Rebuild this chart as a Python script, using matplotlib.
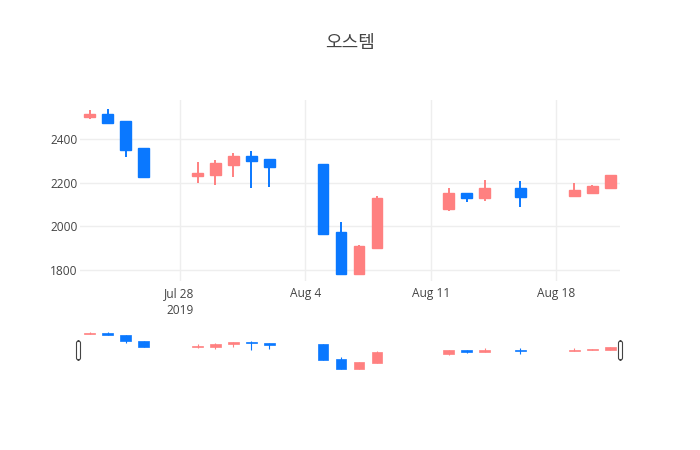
import matplotlib
matplotlib.use('Agg')
import matplotlib.pyplot as plt
import matplotlib.dates as mdates
from matplotlib.patches import FancyBboxPatch
import pandas as pd
import numpy as np

# data
dates = ['2019-07-23', '2019-07-24', '2019-07-25', '2019-07-26',
         '2019-07-29', '2019-07-30', '2019-07-31', '2019-08-01', '2019-08-02',
         '2019-08-05', '2019-08-06', '2019-08-07', '2019-08-08',
         '2019-08-12', '2019-08-13', '2019-08-14', '2019-08-16',
         '2019-08-19', '2019-08-20', '2019-08-21']
opens = [2500, 2515, 2485, 2360, 2230, 2235, 2280, 2325, 2310,
         2285, 1975, 1780, 1900, 2080, 2155, 2130, 2175, 2140, 2155, 2175]
highs = [2535, 2540, 2485, 2360, 2295, 2305, 2335, 2345, 2310,
         2285, 2020, 1915, 2140, 2175, 2155, 2215, 2210, 2200, 2190, 2235]
lows = [2495, 2475, 2320, 2225, 2200, 2190, 2225, 2175, 2180,
        1965, 1780, 1780, 1900, 2070, 2110, 2115, 2090, 2140, 2155, 2170]
closes = [2515, 2475, 2350, 2225, 2245, 2290, 2325, 2300, 2275,
          1965, 1780, 1910, 2130, 2155, 2130, 2175, 2135, 2165, 2185, 2235]

tick_dates = ['2019-07-28', '2019-08-04', '2019-08-11', '2019-08-18']
tick_labels = ['Jul 28\n2019', 'Aug 4', 'Aug 11', 'Aug 18']
y_ticks = [1800, 2000, 2200, 2400]
title = '오스템'

up_color = '#FF8080'
down_color = '#0A78FF'
text_color = '#444444'
grid_color = '#EEEEEE'

plt.rcParams['font.family'] = ['Open Sans', 'Noto Sans CJK KR', 'DejaVu Sans']

x = mdates.date2num(pd.to_datetime(dates))
o = np.array(opens)
h = np.array(highs)
l = np.array(lows)
c = np.array(closes)
colors = [up_color if cc >= oo else down_color for oo, cc in zip(o, c)]

xlim = (x[0] - 0.55, x[-1] + 0.55)
ylim = (1750, 2580)


def draw_candles(ax, wick_lw, edge_lw):
  ax.vlines(x, l, h, colors=colors, linewidth=wick_lw, zorder=2)
  bottoms = np.minimum(o, c)
  heights = np.abs(c - o)
  ax.bar(x, heights, width=0.6, bottom=bottoms, color=colors,
         edgecolor=colors, linewidth=edge_lw, zorder=3)


fig = plt.figure(figsize=(7, 4.5), dpi=100)

# main candlestick panel
ax = fig.add_axes([80/700, 1-281/450, 540/700, 181/450])
draw_candles(ax, 1.4, 1.0)
ax.set_xlim(xlim)
ax.set_ylim(ylim)
ax.set_xticks(mdates.date2num(pd.to_datetime(tick_dates)))
ax.set_xticklabels(tick_labels, linespacing=1.4)
ax.set_yticks(y_ticks)
ax.grid(True, color=grid_color, linewidth=1)
ax.set_axisbelow(True)
for s in ax.spines.values():
  s.set_visible(False)
ax.tick_params(axis='x', length=0, pad=4.5, labelsize=8.6, labelcolor=text_color)
ax.tick_params(axis='y', length=0, pad=1.5, labelsize=8.6, labelcolor=text_color)

# range slider
ax2 = fig.add_axes([80/700, 1-370/450, 540/700, 40/450])
draw_candles(ax2, 0.8, 0.5)
ax2.set_xlim(xlim)
ax2.set_ylim(ylim)
ax2.set_xticks([])
ax2.set_yticks([])
for s in ax2.spines.values():
  s.set_visible(False)

# slider grab handles
for hx in [76.5, 618.5]:
  handle = FancyBboxPatch((hx/700, 1-360/450), 4/700, 19/450,
                          boxstyle='round,pad=0,rounding_size=0.004',
                          transform=fig.transFigure, facecolor='white',
                          edgecolor=text_color, linewidth=0.8)
  fig.add_artist(handle)

fig.text(0.5, 1-43/450, title, ha='center', va='center', fontsize=13, color=text_color)

fig.savefig('out.png', dpi=100)
